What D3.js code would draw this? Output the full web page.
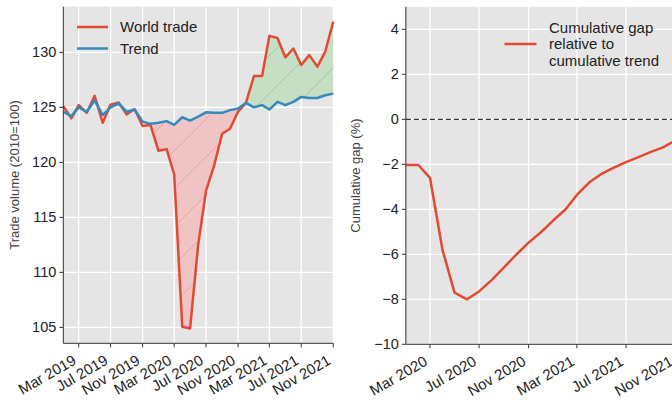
<!DOCTYPE html>
<html><head><meta charset="utf-8">
<script src="https://cdn.jsdelivr.net/npm/d3@7"></script>
<style>
html,body{margin:0;padding:0;background:#fff;}
svg{display:block;font-family:"Liberation Sans",Arial,sans-serif;}
</style></head>
<body>
<svg id="c" width="672" height="402"></svg>
<script>
// ---- data ----
const monthsLeft = ["2019-01","2019-02","2019-03","2019-04","2019-05","2019-06","2019-07","2019-08","2019-09","2019-10","2019-11","2019-12",
  "2020-01","2020-02","2020-03","2020-04","2020-05","2020-06","2020-07","2020-08","2020-09","2020-10","2020-11","2020-12",
  "2021-01","2021-02","2021-03","2021-04","2021-05","2021-06","2021-07","2021-08","2021-09","2021-10","2021-11"];
const worldTrade = [125.1,124.0,125.2,124.5,126.05,123.6,125.25,125.45,124.35,124.85,123.3,123.4,
  121.05,121.2,118.9,105.05,104.9,112.5,117.4,119.7,122.6,123.05,124.6,125.4,
  127.85,127.85,131.5,131.3,129.55,130.35,128.85,129.75,128.7,130.05,132.8];
const trend = [124.6,124.2,125.0,124.6,125.65,124.3,125.0,125.35,124.6,124.8,123.7,123.5,
  123.6,123.75,123.4,124.1,123.8,124.15,124.55,124.5,124.5,124.75,124.9,125.4,
  125.0,125.2,124.8,125.5,125.2,125.5,125.95,125.85,125.85,126.1,126.25];
const monthsRight = ["2020-01","2020-02","2020-03","2020-04","2020-05","2020-06","2020-07","2020-08","2020-09","2020-10","2020-11","2020-12",
  "2021-01","2021-02","2021-03","2021-04","2021-05","2021-06","2021-07","2021-08","2021-09","2021-10","2021-11"];
const cumGap = [-2.03,-2.03,-2.6,-5.8,-7.7,-8.0,-7.65,-7.15,-6.58,-6.02,-5.48,-5.03,
  -4.5,-4.0,-3.36,-2.8,-2.43,-2.15,-1.9,-1.68,-1.45,-1.25,-0.94];
const leftTicksY = [105,110,115,120,125,130];
const rightTicksY = [-10,-8,-6,-4,-2,0,2,4];
const leftTicksX = ["2019-03","2019-07","2019-11","2020-03","2020-07","2020-11","2021-03","2021-07","2021-11"];
const rightTicksX = ["2020-03","2020-07","2020-11","2021-03","2021-07","2021-11"];
const fillStart = "2019-12";

const parse = d3.timeParse("%Y-%m");
const fmt = d3.timeFormat("%b %Y");
const RED = "#E24A33", BLUE = "#348ABD", BG = "#E5E5E5";

const svg = d3.select("#c");
const defs = svg.append("defs");

function hatch(id, color){
  const p = defs.append("pattern").attr("id", id).attr("patternUnits","userSpaceOnUse")
    .attr("x", 21).attr("y", 0).attr("width", 38).attr("height", 38);
  p.append("path").attr("d","M0,38 L38,0 M-6,6 L6,-6 M32,44 L44,32")
    .attr("stroke", color).attr("stroke-width", 1);
}
hatch("hr", "rgba(214,80,70,0.3)");
hatch("hg", "rgba(60,130,60,0.28)");

function panel(o){
  const g = svg.append("g");
  g.append("rect").attr("x", o.x0).attr("y", o.y0).attr("width", o.x1 - o.x0).attr("height", o.y1 - o.y0).attr("fill", BG);
  o.xTicks.forEach(t => {
    const x = o.xs(parse(t));
    g.append("line").attr("x1", x).attr("x2", x).attr("y1", o.y0).attr("y2", o.y1).attr("stroke", "#fff").attr("stroke-width", 1.3);
  });
  o.yTicks.forEach(t => {
    const y = o.ys(t);
    g.append("line").attr("x1", o.x0).attr("x2", o.x1).attr("y1", y).attr("y2", y).attr("stroke", "#fff").attr("stroke-width", 1.3);
  });
  return g;
}

function axes(g, o){
  g.append("line").attr("x1", o.x0).attr("x2", o.x0).attr("y1", o.y0).attr("y2", o.y1).attr("stroke", "#333").attr("stroke-width", 1);
  g.append("line").attr("x1", o.x0).attr("x2", o.x1).attr("y1", o.y1).attr("y2", o.y1).attr("stroke", "#333").attr("stroke-width", 1);
  o.yTicks.forEach(t => {
    const y = o.ys(t);
    g.append("line").attr("x1", o.x0 - 4).attr("x2", o.x0).attr("y1", y).attr("y2", y).attr("stroke", "#333");
    g.append("text").attr("x", o.x0 - 7).attr("y", y).attr("dy", "0.35em").attr("text-anchor", "end")
      .attr("font-size", 14.5).attr("fill", "#222").text(String(t).replace("-", "\u2212"));
  });
  o.xTicks.forEach(t => {
    const x = o.xs(parse(t));
    g.append("line").attr("x1", x).attr("x2", x).attr("y1", o.y1).attr("y2", o.y1 + 4).attr("stroke", "#333");
    g.append("text").attr("transform", `translate(${x - 1.5},${o.y1 + 20}) rotate(-30)`).attr("text-anchor", "end")
      .attr("font-size", 15).attr("fill", "#222").text(fmt(parse(t)));
  });
  g.append("text").attr("transform", `translate(${o.labelX},${(o.y0 + o.y1) / 2}) rotate(-90)`).attr("text-anchor", "middle")
    .attr("dy", "0.35em").attr("font-size", 13).attr("fill", "#444").text(o.label);
}

// ---- left panel ----
const L = {x0: 63.3, x1: 333.3, y0: 6.7, y1: 343.3};
L.xs = d3.scaleTime().domain([parse(monthsLeft[0]), parse(monthsLeft[monthsLeft.length - 1])]).range([L.x0, L.x1]);
L.ys = d3.scaleLinear().domain([103.55, 134.15]).range([L.y1, L.y0]);
L.xTicks = leftTicksX; L.yTicks = leftTicksY; L.label = "Trade volume (2010=100)"; L.labelX = 14;
const gL = panel(L);

const rows = monthsLeft.map((m, i) => ({d: parse(m), w: worldTrade[i], t: trend[i]}));
const fillRows = rows.filter(r => r.d >= parse(fillStart));
defs.append("clipPath").attr("id", "belowTrend").append("path")
  .attr("d", d3.area().x(r => L.xs(r.d)).y0(r => L.ys(r.t)).y1(L.y1)(fillRows));
defs.append("clipPath").attr("id", "aboveTrend").append("path")
  .attr("d", d3.area().x(r => L.xs(r.d)).y0(L.y0).y1(r => L.ys(r.t))(fillRows));
const between = d3.area().x(r => L.xs(r.d)).y0(r => L.ys(r.w)).y1(r => L.ys(r.t));
["belowTrend", "aboveTrend"].forEach((cp, k) => {
  const gg = gL.append("g").attr("clip-path", `url(#${cp})`);
  gg.append("path").attr("d", between(fillRows)).attr("fill", k === 0 ? "rgb(240,196,196)" : "rgb(198,222,196)");
  gg.append("path").attr("d", between(fillRows)).attr("fill", k === 0 ? "url(#hr)" : "url(#hg)");
});
gL.append("path").attr("d", d3.line().x(r => L.xs(r.d)).y(r => L.ys(r.w))(rows))
  .attr("fill", "none").attr("stroke", RED).attr("stroke-width", 2.5).attr("stroke-linejoin", "round");
gL.append("path").attr("d", d3.line().x(r => L.xs(r.d)).y(r => L.ys(r.t))(rows))
  .attr("fill", "none").attr("stroke", BLUE).attr("stroke-width", 2.5).attr("stroke-linejoin", "round");
axes(gL, L);
[["World trade", RED, 27], ["Trend", BLUE, 48.5]].forEach(([t, c, y]) => {
  gL.append("line").attr("x1", 77).attr("x2", 108).attr("y1", y).attr("y2", y).attr("stroke", c).attr("stroke-width", 2.5);
  gL.append("text").attr("x", 120).attr("y", y).attr("dy", "0.35em").attr("font-size", 15).attr("fill", "#222").text(t);
});

// ---- right panel ----
const R = {x0: 405.85, x1: 675.5, y0: 6.8, y1: 344.3};
R.xs = d3.scaleTime().domain([parse(monthsRight[0]), parse(monthsRight[monthsRight.length - 1])]).range([R.x0, R.x1]);
R.ys = d3.scaleLinear().domain([-10, 5]).range([R.y1, R.y0]);
R.xTicks = rightTicksX; R.yTicks = rightTicksY; R.label = "Cumulative gap (%)"; R.labelX = 355;
const gR = panel(R);
gR.append("line").attr("x1", R.x0).attr("x2", R.x1).attr("y1", R.ys(0)).attr("y2", R.ys(0))
  .attr("stroke", "#333").attr("stroke-width", 1.2).attr("stroke-dasharray", "5,3");
const rrows = monthsRight.map((m, i) => ({d: parse(m), v: cumGap[i]}));
gR.append("path").attr("d", d3.line().x(r => R.xs(r.d)).y(r => R.ys(r.v))(rrows))
  .attr("fill", "none").attr("stroke", RED).attr("stroke-width", 2.5).attr("stroke-linejoin", "round");
axes(gR, R);
gR.append("line").attr("x1", 504.5).attr("x2", 536.5).attr("y1", 44).attr("y2", 44).attr("stroke", RED).attr("stroke-width", 2.5);
["Cumulative gap", "relative to", "cumulative trend"].forEach((t, i) => {
  gR.append("text").attr("x", 549).attr("y", 27.3 + i * 16.5).attr("dy", "0.35em").attr("font-size", 15).attr("fill", "#222").text(t);
});
</script>
</body></html>
